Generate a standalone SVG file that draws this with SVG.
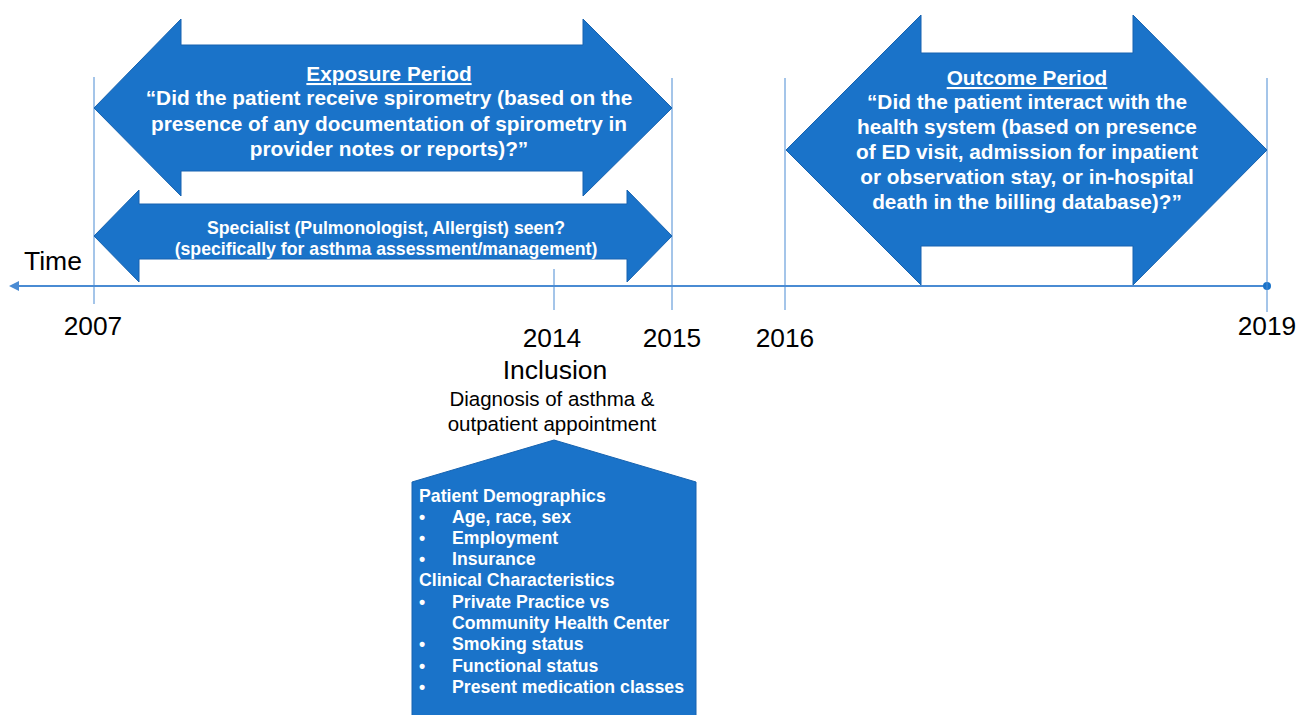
<svg xmlns="http://www.w3.org/2000/svg" width="1299" height="715" viewBox="0 0 1299 715">
<style>
.shape{fill:#1A73C9;stroke:#1763B0;stroke-width:1}
.tick{stroke:#4A8BD3;stroke-width:1;fill:none}
.axis{stroke:#4A8BD3;stroke-width:2;fill:none}
.w{fill:#FFFFFF;font-family:"Liberation Sans",Arial,sans-serif;font-weight:bold}
.k{fill:#000000;font-family:"Liberation Sans",Arial,sans-serif}
.c{text-anchor:middle}
</style>
<defs>
<marker id="ah" viewBox="0 0 10 10" refX="1" refY="5" markerWidth="5" markerHeight="5" orient="auto-start-reverse" markerUnits="strokeWidth">
<path d="M0,0 L10,5 L0,10 z" fill="#4A8BD3"/>
</marker>
</defs>
<g id="connectors">
<line class="axis" x1="1267" y1="286" x2="18" y2="286" marker-end="url(#ah)"/>
<circle cx="1267" cy="286" r="4" fill="#1A73C9"/>
<line class="tick" x1="94" y1="77" x2="94" y2="304"/>
<line class="tick" x1="554" y1="269" x2="554" y2="310"/>
<line class="tick" x1="672" y1="78" x2="672" y2="310"/>
<line class="tick" x1="785" y1="78" x2="785" y2="310"/>
<line class="tick" x1="1267" y1="78" x2="1267" y2="312"/>
</g>
<g id="exposure">
<path class="shape" d="M94,108 L181,19 L181,45 L583,45 L583,19 L672,108 L583,196 L583,171 L181,171 L181,196 Z"/>
<text class="w c" x="389" y="81" font-size="20.8" text-decoration="underline">Exposure Period</text>
<text class="w c" x="389" y="105" font-size="20.8">“Did the patient receive spirometry (based on the</text>
<text class="w c" x="389" y="131" font-size="20.8">presence of any documentation of spirometry in</text>
<text class="w c" x="389" y="156" font-size="20.8">provider notes or reports)?”</text>
</g>
<g id="specialist">
<path class="shape" d="M94,236 L139,190 L139,204 L627,204 L627,190 L672,236 L627,282 L627,259 L139,259 L139,282 Z"/>
<text class="w c" x="386" y="234" font-size="17.7">Specialist (Pulmonologist, Allergist) seen?</text>
<text class="w c" x="386" y="255" font-size="17.7">(specifically for asthma assessment/management)</text>
</g>
<g id="outcome">
<path class="shape" d="M786,150 L921,15 L921,53 L1133,53 L1133,15 L1267,150 L1133,285 L1133,246 L921,246 L921,285 Z"/>
<text class="w c" x="1027" y="85" font-size="20.8" text-decoration="underline">Outcome Period</text>
<text class="w c" x="1027" y="109" font-size="20.8">“Did the patient interact with the</text>
<text class="w c" x="1027" y="134" font-size="20.8">health system (based on presence</text>
<text class="w c" x="1027" y="159" font-size="20.8">of ED visit, admission for inpatient</text>
<text class="w c" x="1027" y="184" font-size="20.8">or observation stay, or in-hospital</text>
<text class="w c" x="1027" y="209" font-size="20.8">death in the billing database)?”</text>
</g>
<g id="labels">
<text class="k" x="24" y="270" font-size="26.5">Time</text>
<text class="k c" x="93" y="335" font-size="26.3">2007</text>
<text class="k c" x="552" y="347" font-size="26.3">2014</text>
<text class="k c" x="672" y="347" font-size="26.3">2015</text>
<text class="k c" x="785" y="347" font-size="26.3">2016</text>
<text class="k c" x="1267" y="335" font-size="26.3">2019</text>
</g>
<g id="inclusion">
<text class="k c" x="555" y="379" font-size="26.5">Inclusion</text>
<text class="k c" x="552" y="406" font-size="20.5">Diagnosis of asthma &amp;</text>
<text class="k c" x="552" y="431" font-size="20.5">outpatient appointment</text>
</g>
<g id="covariates">
<path class="shape" d="M554,440 L696,482 L696,716 L412,716 L412,482 Z"/>
<text class="w" x="419" y="502" font-size="17.7">Patient Demographics</text>
<g font-size="17.7">
<text class="w" x="419" y="523">•</text><text class="w" x="452" y="523">Age, race, sex</text>
<text class="w" x="419" y="544">•</text><text class="w" x="452" y="544">Employment</text>
<text class="w" x="419" y="565">•</text><text class="w" x="452" y="565">Insurance</text>
<text class="w" x="419" y="586">Clinical Characteristics</text>
<text class="w" x="419" y="608">•</text><text class="w" x="452" y="608">Private Practice vs</text>
<text class="w" x="452" y="629">Community Health Center</text>
<text class="w" x="419" y="650">•</text><text class="w" x="452" y="650">Smoking status</text>
<text class="w" x="419" y="672">•</text><text class="w" x="452" y="672">Functional status</text>
<text class="w" x="419" y="693">•</text><text class="w" x="452" y="693">Present medication classes</text>
</g>
</g>
</svg>
